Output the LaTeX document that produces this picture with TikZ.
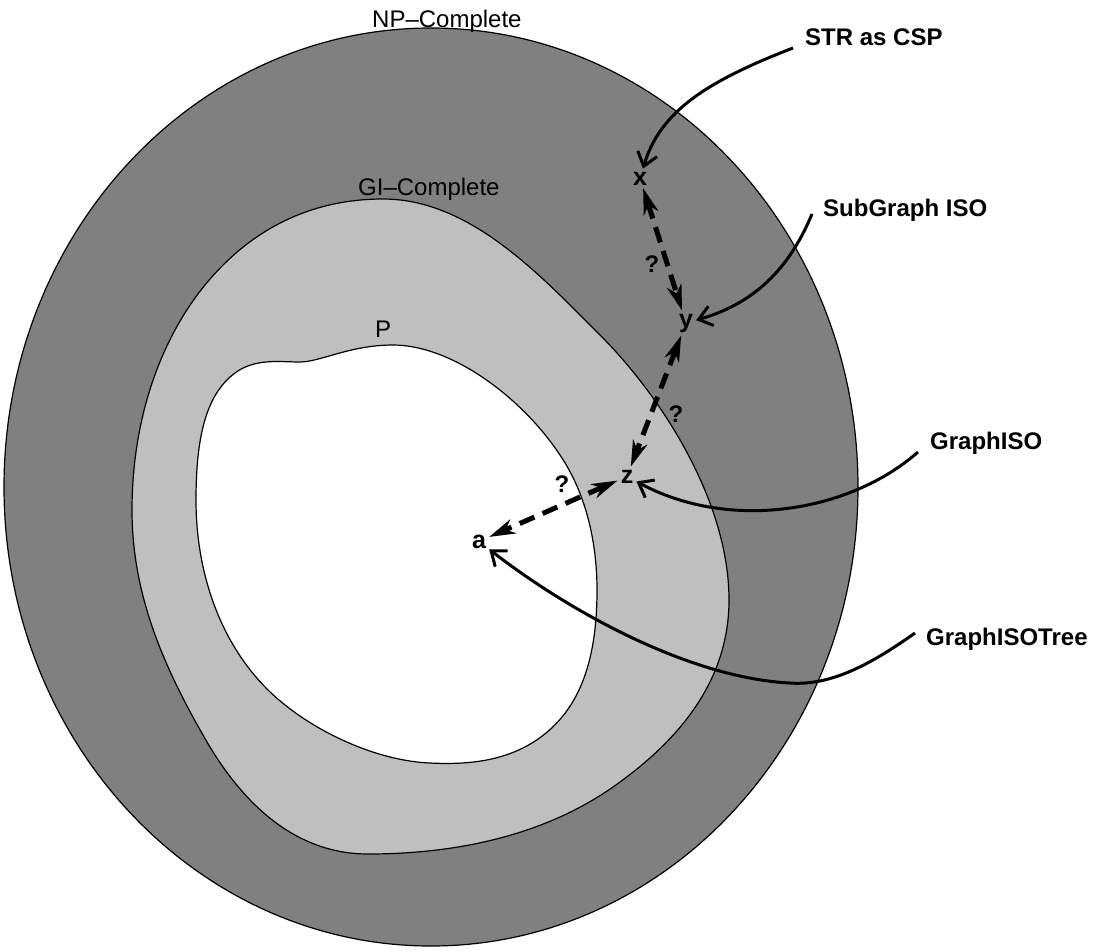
\documentclass[tikz,border=0pt]{standalone}
\usepackage{fontspec}
\setmainfont{Liberation Sans}
\usetikzlibrary{arrows.meta}
\definecolor{npgray}{gray}{0.5}
\definecolor{gigray}{gray}{0.75}
\begin{document}
\begin{tikzpicture}[x=1pt,y=-1pt,
  region/.style={draw=black, line width=1.2pt},
  lab/.style={font=\fontsize{24}{28}\selectfont, inner sep=0pt},
  blab/.style={font=\fontsize{24}{28}\selectfont\bfseries, inner sep=0pt},
  letter/.style={font=\fontsize{25}{28}\selectfont\bfseries, inner sep=3pt},
  callout/.style={line width=3pt, -{Straight Barb[length=13pt,width=20pt]}},
  unknown/.style={line width=5pt, dash pattern=on 16pt off 9pt,
    {Stealth[length=26pt,width=15pt,inset=8pt]}-{Stealth[length=26pt,width=15pt,inset=8pt]}},
]
\useasboundingbox (0,0) rectangle (1094,951);
\fill[white] (0,0) rectangle (1094,951);

% NP-Complete region
\draw[region, fill=npgray] (431,487) ellipse [x radius=427, y radius=459];
% GI-Complete region
\draw[region, fill=gigray] (383,199)
  .. controls (470,199) and (540,275) .. (600,335)
  .. controls (660,395) and (729,500) .. (729,600)
  .. controls (729,680) and (680,740) .. (613,787)
  .. controls (540,838) and (450,854) .. (368,854)
  .. controls (300,854) and (245,810) .. (203,735)
  .. controls (160,660) and (132,590) .. (132,510)
  .. controls (132,420) and (160,340) .. (205,285)
  .. controls (250,230) and (310,199) .. (383,199) -- cycle;
% P region
\draw[region, fill=white] (393,345)
  .. controls (450,345) and (520,395) .. (560,455)
  .. controls (585,492) and (597,540) .. (597,590)
  .. controls (597,660) and (580,705) .. (546,733)
  .. controls (512,761) and (470,765) .. (430,763)
  .. controls (380,761) and (320,735) .. (279,700)
  .. controls (225,654) and (196,580) .. (196,500)
  .. controls (196,440) and (205,395) .. (235,373)
  .. controls (255,358) and (280,362) .. (300,362)
  .. controls (320,362) and (350,345) .. (393,345) -- cycle;

% region labels
\node[lab, anchor=base west] (np) at (372,27) {NP--Complete};
\node[lab, anchor=base west] (gi) at (358,195) {GI--Complete};
\node[lab, anchor=base west] (p) at (375,337) {P};

% problem labels
\node[blab, anchor=base west] (str) at (805,45) {STR as CSP};
\node[blab, anchor=base west] (sub) at (823,216) {SubGraph ISO};
\node[blab, anchor=base west] (gis) at (930,449) {GraphISO};
\node[blab, anchor=base west] (gist) at (926,645) {GraphISOTree};

% points
\node[letter, anchor=base] (x) at (640,185) {x};
\node[letter, anchor=base] (y) at (686,327) {y};
\node[letter, anchor=base] (z) at (627,483) {z};
\node[letter, anchor=base] (a) at (479,548) {a};

% question marks
\node[blab, anchor=base] (q1) at (652,272) {?};
\node[blab, anchor=base] (q2) at (676,422) {?};
\node[blab, anchor=base] (q3) at (562,492) {?};

% dashed unknown relations
\draw[unknown] (x) -- (y);
\draw[unknown] (y) -- (z);
\draw[unknown] (z) -- (a);

% callouts
\coordinate (s1) at (793,48);
\coordinate (s2) at (812,214);
\coordinate (s3) at (918,452);
\coordinate (s4) at (915,633);
\coordinate (m4) at (790,683);
\draw[callout] (s1) .. controls (705,82) and (660,112) .. (x);
\draw[callout] (s2) .. controls (792,262) and (760,302) .. (y);
\draw[callout] (s3) .. controls (850,512) and (730,532) .. (z);
\draw[callout] (s4) .. controls (870,665) and (830,686) .. (m4)
  .. controls (690,678) and (570,612) .. (a);
\end{tikzpicture}
\end{document}
